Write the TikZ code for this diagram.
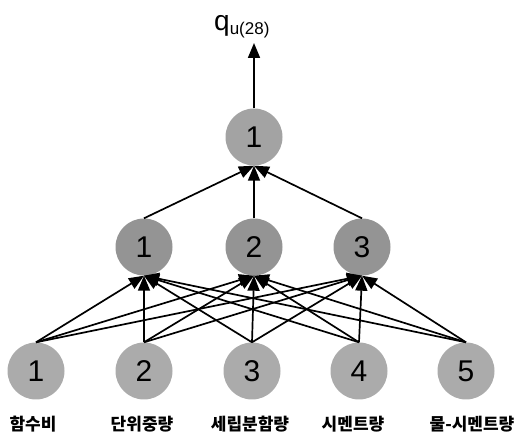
\documentclass[tikz,border=0pt]{standalone}
\usepackage{fontspec}
\setmainfont{Liberation Sans}
\newfontfamily\kr{Noto Sans CJK KR}
\usetikzlibrary{arrows.meta}
\tikzset{
  neuron/.style={circle, fill=black!33, draw=none, minimum size=57pt, inner sep=0pt,
    font=\fontsize{30}{30}\selectfont},
  hidneuron/.style={neuron, fill=black!42},
  outneuron/.style={neuron, fill=black!36},
  conn/.style={line width=1.7pt, -{Triangle[length=15pt,width=12pt]}},
  lab/.style={font=\kr\bfseries\fontsize{17}{17}\selectfont, inner sep=0pt}
}
\begin{document}
\begin{tikzpicture}[x=1pt,y=1pt]
\useasboundingbox (0,0) rectangle (529,441);
% output
\node[outneuron] (o) at (254,304) {1};
% hidden
\node[hidneuron] (h1) at (144,194) {1};
\node[hidneuron] (h2) at (254,194) {2};
\node[hidneuron] (h3) at (362,194) {3};
% input
\node[neuron] (i1) at (36,70) {1};
\node[neuron] (i2) at (144,70) {2};
\node[neuron] (i3) at (252,70) {3};
\node[neuron] (i4) at (359,70) {4};
\node[neuron] (i5) at (466,70) {5};
% labels
\node[lab] (l1) at (33,17) {함수비};
\node[lab] (l2) at (142,17) {단위중량};
\node[lab] (l3) at (250,17) {세립분함량};
\node[lab] (l4) at (353,17) {시멘트량};
\node[lab] (l5) at (472,17) {물-시멘트량};
% output label
\node[inner sep=0pt, anchor=base west] (q) at (214,410) {\fontsize{28}{28}\selectfont q\raisebox{-4pt}{\fontsize{17}{17}\selectfont u(28)}};
\coordinate (qa) at (254,398);
% connections
\foreach \i in {1,...,5}{
  \foreach \h in {1,2,3}{
    \draw[conn] (i\i.north) -- (h\h.south);
  }
}
\foreach \h in {1,2,3}{
  \draw[conn] (h\h.north) -- (o.south);
}
\draw[conn] (o.north) -- (qa);
\end{tikzpicture}
\end{document}
